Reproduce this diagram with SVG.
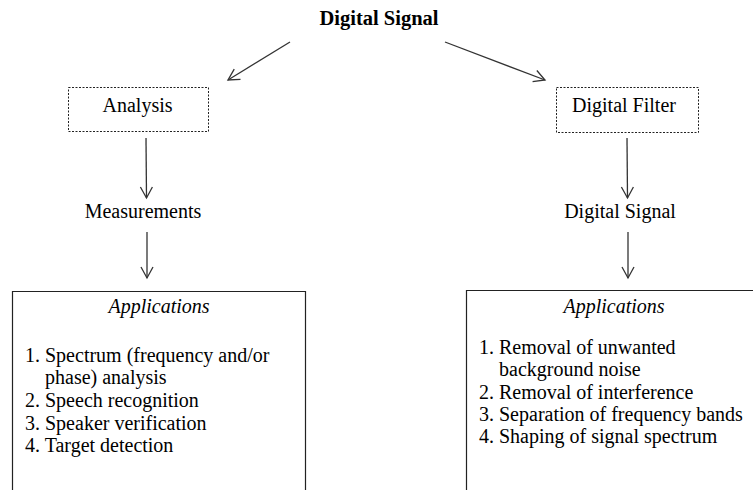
<svg xmlns="http://www.w3.org/2000/svg" width="753" height="490" viewBox="0 0 753 490">
<style>
text{font-family:"Liberation Serif","Times New Roman",serif;font-size:20px;fill:#000}
.t{font-weight:bold;font-size:20.5px}
.c{text-anchor:middle}
.i{font-style:italic}
.dash{fill:#fff;stroke:#222;stroke-width:1;stroke-dasharray:2,1.5}
.box{fill:none;stroke:#222;stroke-width:1.2}
.ln{stroke:#333;stroke-width:1.3;fill:none}
</style>
<defs>
<marker id="ah" markerWidth="14" markerHeight="14" refX="12" refY="7" orient="auto" markerUnits="userSpaceOnUse">
<path d="M1,1 L12,7 L1,13" fill="none" stroke="#333" stroke-width="1.3"/>
</marker>
</defs>
<rect width="753" height="490" fill="#fff"/>
<g id="title"><text class="t c" x="379" y="25">Digital Signal</text></g>
<g id="analysis"><rect class="dash" x="68.5" y="87.5" width="140" height="44"/><text class="c" x="137.5" y="112">Analysis</text></g>
<g id="filter"><rect class="dash" x="556.5" y="87.5" width="142" height="45"/><text class="c" x="624" y="112">Digital Filter</text></g>
<g id="measurements"><text class="c" x="143" y="218">Measurements</text></g>
<g id="signal2"><text class="c" x="620" y="218">Digital Signal</text></g>
<g id="appsLeft"><path class="box" d="M12.5,491 V291.5 H305.5 V491"/>
<text class="i c" x="159" y="313">Applications</text>
<text x="25" y="362">1. Spectrum (frequency and/or</text>
<text x="45" y="384">phase) analysis</text>
<text x="25" y="407">2. Speech recognition</text>
<text x="25" y="430">3. Speaker verification</text>
<text x="25" y="452">4. Target detection</text>
</g>
<g id="appsRight"><path class="box" d="M466.5,491 V290.5 H754"/>
<text class="i c" x="614" y="313">Applications</text>
<text x="479" y="354">1. Removal of unwanted</text>
<text x="499" y="376">background noise</text>
<text x="479" y="399">2. Removal of interference</text>
<text x="479" y="421">3. Separation of frequency bands</text>
<text x="479" y="443">4. Shaping of signal spectrum</text>
</g>
<g id="connectors">
<line class="ln" x1="290" y1="42" x2="228" y2="80" marker-end="url(#ah)"/>
<line class="ln" x1="445" y1="42" x2="545" y2="80" marker-end="url(#ah)"/>
<line class="ln" x1="146" y1="138" x2="146.5" y2="198" marker-end="url(#ah)"/>
<line class="ln" x1="147" y1="232" x2="147" y2="278" marker-end="url(#ah)"/>
<line class="ln" x1="627" y1="138" x2="627.5" y2="198" marker-end="url(#ah)"/>
<line class="ln" x1="628" y1="232" x2="628" y2="278" marker-end="url(#ah)"/>
</g>
</svg>
